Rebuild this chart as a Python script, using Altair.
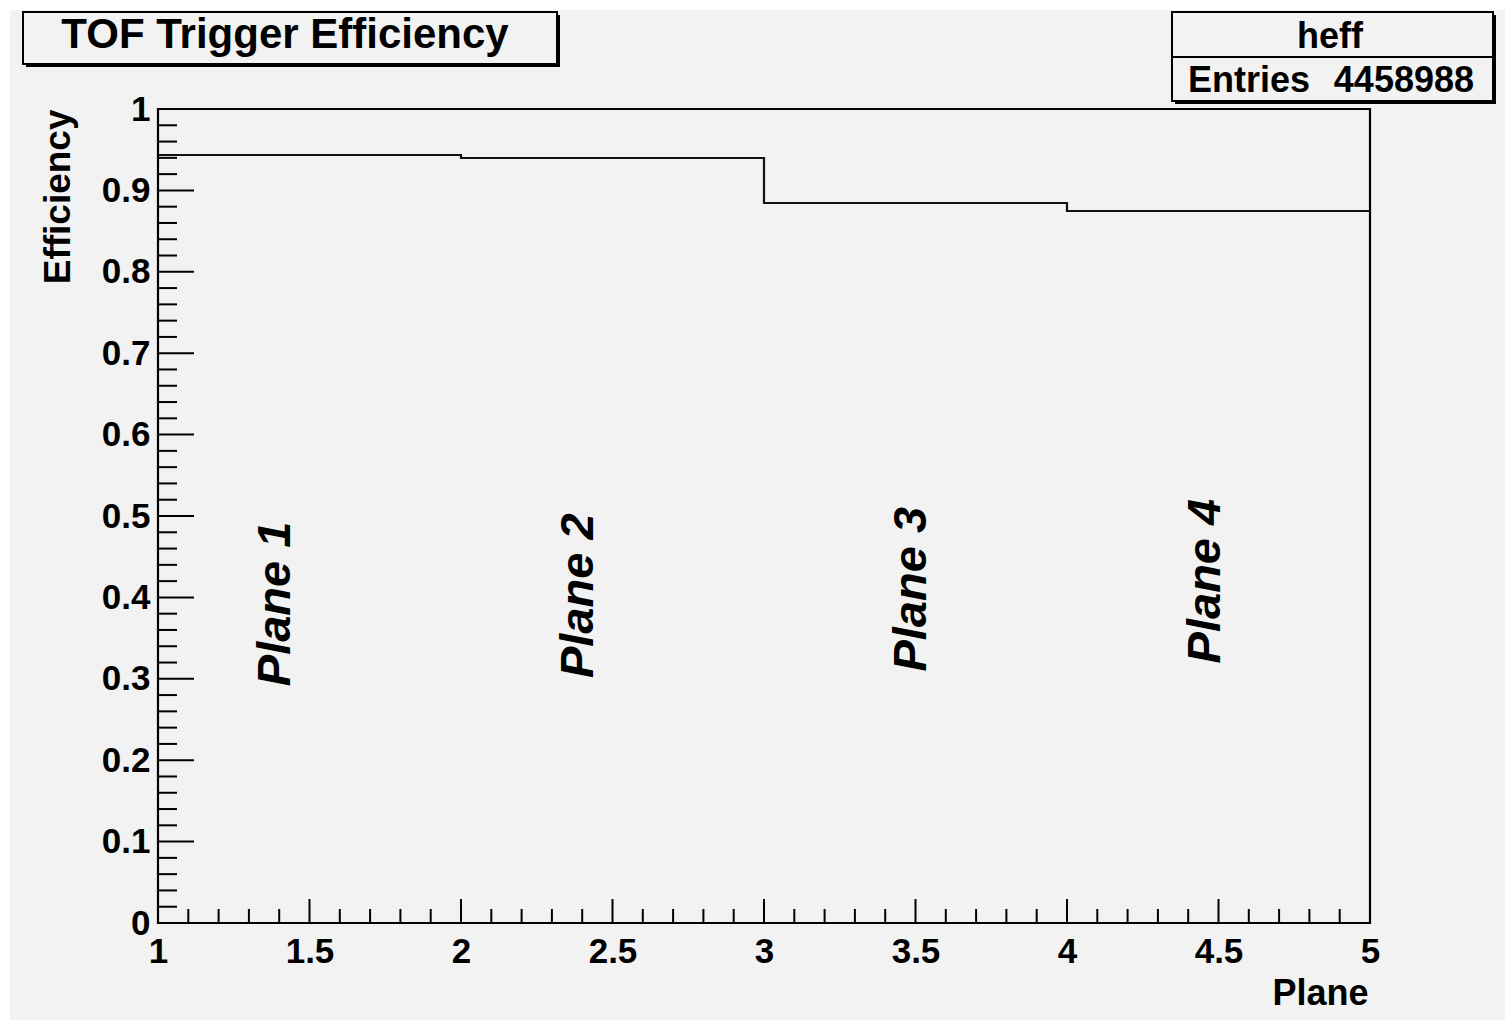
import altair as alt
import pandas as pd
import numpy as np

# ---- data ----
bin_edges = [1, 2, 3, 4, 5]
efficiency = [0.9435, 0.9398, 0.8845, 0.8747]

plane_labels = ["Plane 1", "Plane 2", "Plane 3", "Plane 4"]
plane_label_x = [1.39, 2.39, 3.49, 4.46]
plane_label_y = [0.392, 0.402, 0.410, 0.420]

x_tick_labels = [1, 1.5, 2, 2.5, 3, 3.5, 4, 4.5, 5]
y_tick_labels = [0, 0.1, 0.2, 0.3, 0.4, 0.5, 0.6, 0.7, 0.8, 0.9, 1]

title_text = "TOF Trigger Efficiency"
stats_name = "heff"
stats_key = "Entries"
stats_value = "4458988"
x_title = "Plane"
y_title = "Efficiency"

# ---- layout ----
W, H = 1212, 814
PL, PT = 158, 109
FONT = "Liberation Sans"
BG = "#f2f2f2"

xs = alt.Scale(domain=[1, 5], nice=False, zero=False)
ys = alt.Scale(domain=[0, 1], nice=False, zero=False)

hist_df = pd.DataFrame({"x": bin_edges, "y": efficiency + [efficiency[-1]]})
label_df = pd.DataFrame({"x": plane_label_x, "y": plane_label_y, "t": plane_labels})

x_major = [v for v in x_tick_labels]
x_minor = [round(v, 2) for v in np.arange(1.0, 5.0001, 0.1) if round(v * 10) % 5 != 0]
y_major = [v for v in y_tick_labels]
y_minor = [round(v, 3) for v in np.arange(0.0, 1.0001, 0.02) if round(v * 50) % 5 != 0]

one = pd.DataFrame({"d": [0]})


def box(x1, x2, y1, y2, **kw):
    return alt.Chart(one).mark_rect(**kw).encode(
        x=alt.value(x1), x2=alt.value(x2), y=alt.value(y1), y2=alt.value(y2)
    )


def label(txt, x, y, **kw):
    return alt.Chart(one).mark_text(font=FONT, fontWeight="bold", color="black", **kw).encode(
        x=alt.value(x), y=alt.value(y), text=alt.value(txt)
    )


background = box(-PL + 10, 1505 - PL, -PT + 10, 1020 - PT, fill=BG)

axes_layer = alt.Chart(hist_df).mark_line(opacity=0).encode(
    x=alt.X("x:Q", scale=xs, axis=alt.Axis(
        values=x_tick_labels, format="~g", ticks=False, tickSize=0, domain=False, grid=False,
        labelFont=FONT, labelFontWeight="bold", labelFontSize=35, labelColor="black",
        labelPadding=11, labelBaseline="top", labelFlush=False, labelOverlap=False,
        title=x_title, titleFont=FONT, titleFontWeight="bold", titleFontSize=36,
        titleColor="black", titleAlign="right", titleBaseline="alphabetic",
        titleX=W - 2, titleY=81, zindex=2)),
    y=alt.Y("y:Q", scale=ys, axis=alt.Axis(
        values=y_tick_labels, format="~g", ticks=False, tickSize=0, domain=False, grid=False,
        labelFont=FONT, labelFontWeight="bold", labelFontSize=35, labelColor="black",
        labelPadding=8, labelFlush=False, labelOverlap=False,
        title=y_title, titleFont=FONT, titleFontWeight="bold", titleFontSize=37,
        titleColor="black", titleAngle=270, titleAlign="right", titleBaseline="alphabetic",
        titleX=-89, titleY=0, zindex=2)),
)

hist = alt.Chart(hist_df).mark_line(
    interpolate="step-after", color="#111111", strokeWidth=2.2
).encode(x=alt.X("x:Q", scale=xs), y=alt.Y("y:Q", scale=ys))

xmaj = alt.Chart(pd.DataFrame({"v": x_major})).mark_rule(color="black", strokeWidth=2).encode(
    x=alt.X("v:Q", scale=xs), y=alt.value(H), y2=alt.value(H - 24))
xmin = alt.Chart(pd.DataFrame({"v": x_minor})).mark_rule(color="black", strokeWidth=2).encode(
    x=alt.X("v:Q", scale=xs), y=alt.value(H), y2=alt.value(H - 14))
ymaj = alt.Chart(pd.DataFrame({"v": y_major})).mark_rule(color="black", strokeWidth=2).encode(
    y=alt.Y("v:Q", scale=ys), x=alt.value(0), x2=alt.value(36))
ymin = alt.Chart(pd.DataFrame({"v": y_minor})).mark_rule(color="black", strokeWidth=2).encode(
    y=alt.Y("v:Q", scale=ys), x=alt.value(0), x2=alt.value(19))

frame = box(0, W, 0, H, filled=False, stroke="black", strokeWidth=2.2)

plane_text = alt.Chart(label_df).mark_text(
    font=FONT, fontWeight="bold", fontStyle="italic", fontSize=47, angle=270,
    align="center", baseline="middle", color="black"
).encode(x=alt.X("x:Q", scale=xs), y=alt.Y("y:Q", scale=ys), text="t:N")

# title box
t_shadow = box(-132, 402, -94, -42, fill="black")
t_box = box(-135, 399, -97, -45, fill=BG, stroke="black", strokeWidth=2)
t_text = label(title_text, 127, -61, fontSize=42, align="center", baseline="alphabetic")

# stats box
s_shadow = box(1017, 1338, -94, -5, fill="black")
s_box = box(1014, 1335, -97, -8, fill=BG, stroke="black", strokeWidth=2)
s_div = alt.Chart(one).mark_rule(color="black", strokeWidth=2).encode(
    x=alt.value(1014), x2=alt.value(1335), y=alt.value(-52))
s_name = label(stats_name, 1172, -61, fontSize=36, align="center", baseline="alphabetic")
s_key = label(stats_key, 1030, -17, fontSize=36, align="left", baseline="alphabetic")
s_val = label(stats_value, 1316, -17, fontSize=36, align="right", baseline="alphabetic")

chart = alt.layer(
    background, axes_layer, hist, xmaj, xmin, ymaj, ymin, frame, plane_text,
    t_shadow, t_box, t_text, s_shadow, s_box, s_div, s_name, s_key, s_val
).properties(
    width=W, height=H,
    autosize=alt.AutoSizeParams(type="none"),
    padding={"left": PL, "top": PT, "right": 1505 - PL - W, "bottom": 1020 - PT - H},
    background="white",
).configure_view(stroke=None)

chart.save("out.html", embed_options={"renderer": "svg", "actions": False})
